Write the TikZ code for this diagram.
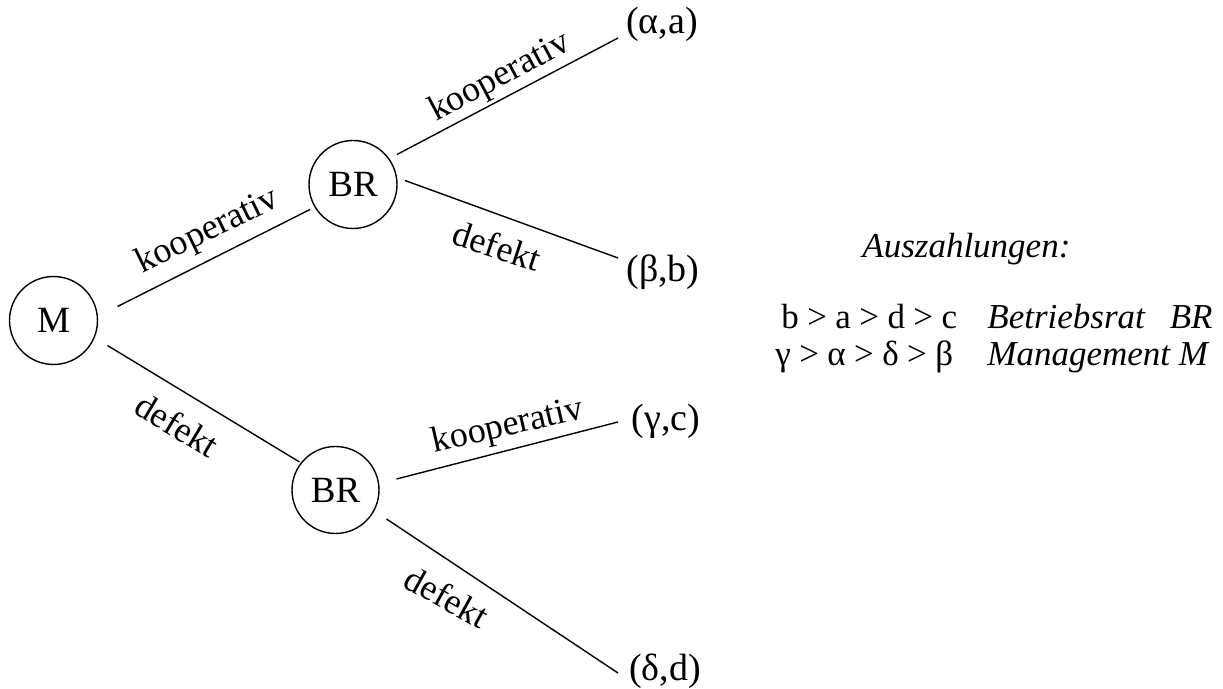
\documentclass[tikz,border=0pt]{standalone}
\usepackage{fontspec}
\setmainfont{Liberation Serif}
\newcommand{\gtsep}{\kern0.24em>\kern0.24em}
\begin{document}
\begin{tikzpicture}[x=0.5pt,y=-0.5pt,
  player/.style={draw,circle,line width=0.7pt,minimum size=44pt,inner sep=0pt,font=\fontsize{18.5}{21}\selectfont},
  leaf/.style={inner sep=0pt,font=\fontsize{19}{21}\selectfont},
  elabel/.style={inner sep=0pt,font=\fontsize{18}{21}\selectfont},
  txt/.style={inner sep=0pt,anchor=base west,font=\fontsize{17.5}{20}\selectfont},
  edge/.style={line width=0.7pt}]
\useasboundingbox (0,0) rectangle (1223,689);
% players
\node[player] (M) at (53.5,320.5) {M};
\node[player] (BR1) at (353,184.5) {BR};
\node[player,minimum size=43.5pt] (BR2) at (335.5,490) {BR};
% outcomes
\node[leaf] (a) at (662,24) {(α,a)};
\node[leaf] (b) at (663,272) {(β,b)};
\node[leaf] (c) at (666,421) {(γ,c)};
\node[leaf] (d) at (665,671) {(δ,d)};
% edges
\draw[edge] ([shift={(64,-14)}]M.center) -- ([shift={(-43,25)}]BR1.center);
\draw[edge] ([shift={(54,25)}]M.center) -- ([shift={(-36,-28)}]BR2.center);
\draw[edge] ([shift={(44,-30)}]BR1.center) -- ([shift={(-44,14)}]a.center);
\draw[edge] ([shift={(52,-4)}]BR1.center) -- ([shift={(-45,-14)}]b.center);
\draw[edge] ([shift={(61,-11)}]BR2.center) -- ([shift={(-48,1)}]c.center);
\draw[edge] ([shift={(51,29)}]BR2.center) -- ([shift={(-47,2)}]d.center);
% edge labels
\node[elabel,rotate=26] (l1) at (208,232) {kooperativ};
\node[elabel,rotate=-31] (l2) at (177,425) {defekt};
\node[elabel,rotate=28] (l3) at (500,78) {kooperativ};
\node[elabel,rotate=-18] (l4) at (497,246) {defekt};
\node[elabel,rotate=13] (l5) at (508,427) {kooperativ};
\node[elabel,rotate=-29] (l6) at (447,597) {defekt};
% payoffs
\node[txt] (t0) at (862,258) {\itshape Auszahlungen:};
\node[txt] (t1) at (781,329) {b\gtsep a\gtsep d\gtsep c};
\node[txt] (t2) at (987,329) {\itshape Betriebsrat};
\node[txt,anchor=base east] (t3) at (1213,329) {\itshape BR};
\node[txt] (t4) at (775,366) {γ\gtsep α\gtsep δ\gtsep β};
\node[txt] (t5) at (987,366) {\itshape Management M};
\end{tikzpicture}
\end{document}
